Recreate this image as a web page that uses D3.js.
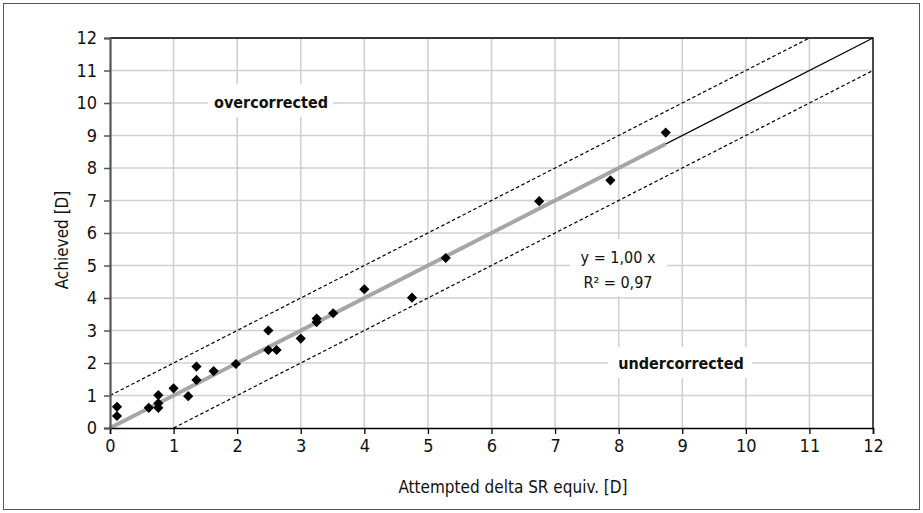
<!DOCTYPE html>
<html>
<head>
<meta charset="utf-8">
<script src="https://cdn.jsdelivr.net/npm/d3@7/dist/d3.min.js"></script>
<style>
  body { margin: 0; background: #fff; }
  svg text { font-family: 'DejaVu Sans Condensed', 'DejaVu Sans', sans-serif; font-stretch: condensed; fill: #111; }
</style>
</head>
<body>
<svg id="chart" width="923" height="513"></svg>
<script>
// Attempted vs. achieved correction (dioptres)
const attempted = [0.11, 0.11, 0.61, 0.76, 0.76, 0.76, 1.00, 1.23, 1.36, 1.36, 1.63, 1.98,
                   2.49, 2.49, 2.62, 3.00, 3.25, 3.25, 3.51, 4.00, 4.75, 5.28, 6.75, 7.87, 8.74];
const achieved  = [0.65, 0.37, 0.62, 1.01, 0.76, 0.62, 1.22, 0.98, 1.89, 1.48, 1.75, 1.97,
                   3.00, 2.40, 2.40, 2.75, 3.37, 3.26, 3.53, 4.27, 4.01, 5.23, 6.98, 7.62, 9.09];
const xTicks = [0, 1, 2, 3, 4, 5, 6, 7, 8, 9, 10, 11, 12];
const yTicks = [0, 1, 2, 3, 4, 5, 6, 7, 8, 9, 10, 11, 12];
const fitSlope = 1.00;
const fitR2 = 0.97;
const tolerance = 1; // ±1 D band

const svg = d3.select("#chart");
const W = 923, H = 513;
const plot = { left: 110, right: 873, top: 38, bottom: 428 };

const x = d3.scaleLinear().domain([0, 12]).range([plot.left, plot.right]);
const y = d3.scaleLinear().domain([0, 12]).range([plot.bottom, plot.top]);

// outer frame
svg.append("rect")
  .attr("x", 3.5).attr("y", 3.5).attr("width", W - 7).attr("height", H - 7)
  .attr("fill", "none").attr("stroke", "#555").attr("stroke-width", 1);

// gridlines
const grid = svg.append("g");
grid.selectAll("line.v").data(xTicks.slice(1)).join("line")
  .attr("x1", d => x(d)).attr("x2", d => x(d))
  .attr("y1", plot.top).attr("y2", plot.bottom)
  .attr("stroke", "#d0d0d0").attr("stroke-width", 1.6);
grid.selectAll("line.h").data(yTicks.slice(1)).join("line")
  .attr("x1", plot.left).attr("x2", plot.right)
  .attr("y1", d => y(d)).attr("y2", d => y(d))
  .attr("stroke", "#d0d0d0").attr("stroke-width", 1.6);

// white backing boxes behind the annotations
const boxes = [
  { x0: 208, x1: 333, y0: 84, y1: 117 },
  { x0: 608, x1: 752, y0: 347, y1: 378 },
  { x0: 570, x1: 667, y0: 239, y1: 296 }
];
svg.selectAll("rect.box").data(boxes).join("rect")
  .attr("x", d => d.x0).attr("y", d => d.y0)
  .attr("width", d => d.x1 - d.x0).attr("height", d => d.y1 - d.y0)
  .attr("fill", "#fff");

// plot border (top / right)
svg.append("path")
  .attr("d", `M${plot.left},${plot.top}H${plot.right}V${plot.bottom}`)
  .attr("fill", "none").attr("stroke", "#000").attr("stroke-width", 1.3);

const line = d3.line().x(d => x(d[0])).y(d => y(d[1]));

// tolerance band
svg.append("path")
  .attr("d", line([[0, tolerance], [12 - tolerance, 12]]))
  .attr("fill", "none").attr("stroke", "#000").attr("stroke-width", 1.2)
  .attr("stroke-dasharray", "3.5,2.5");
svg.append("path")
  .attr("d", line([[tolerance, 0], [12, 12 - tolerance]]))
  .attr("fill", "none").attr("stroke", "#000").attr("stroke-width", 1.2)
  .attr("stroke-dasharray", "3.5,2.5");

// identity line
svg.append("path")
  .attr("d", line([[0, 0], [12, 12]]))
  .attr("fill", "none").attr("stroke", "#000").attr("stroke-width", 1.2);

// linear fit through origin
const xMax = d3.max(attempted);
svg.append("path")
  .attr("d", line([[0, 0], [xMax, fitSlope * xMax]]))
  .attr("fill", "none").attr("stroke", "#a6a6a6").attr("stroke-width", 4);

// data points (diamonds)
const diamond = d3.symbol().type(d3.symbolSquare).size(52);
svg.append("g").selectAll("path").data(attempted.map((a, i) => [a, achieved[i]])).join("path")
  .attr("d", diamond)
  .attr("transform", d => `translate(${x(d[0])},${y(d[1])}) rotate(45)`)
  .attr("fill", "#000");

// axes
const xAxis = svg.append("g").attr("transform", `translate(0,${plot.bottom})`)
  .call(d3.axisBottom(x).tickValues(xTicks).tickSize(6).tickPadding(5).tickFormat(d3.format("d")));
xAxis.select(".domain").attr("stroke", "#000").attr("stroke-width", 1.6);
xAxis.selectAll(".tick line").attr("stroke", "#000").attr("stroke-width", 1.3);
xAxis.selectAll(".tick text").attr("font-size", 18).attr("font-family", null);

const yAxis = svg.append("g").attr("transform", `translate(${plot.left},0)`)
  .call(d3.axisLeft(y).tickValues(yTicks).tickSize(6).tickPadding(7).tickFormat(d3.format("d")));
yAxis.select(".domain").attr("stroke", "#555").attr("stroke-width", 2.2);
yAxis.selectAll(".tick line").attr("stroke", "#555").attr("stroke-width", 1.5);
yAxis.selectAll(".tick text").attr("font-size", 18).attr("font-family", null);

// axis titles
svg.append("text")
  .attr("x", 513).attr("y", 493)
  .attr("text-anchor", "middle").attr("font-size", 17)
  .text("Attempted delta SR equiv. [D]");
svg.append("text")
  .attr("transform", `translate(68,240) rotate(-90)`)
  .attr("text-anchor", "middle").attr("font-size", 17)
  .text("Achieved [D]");

// annotations
svg.append("text").attr("x", 271).attr("y", 108)
  .attr("text-anchor", "middle").attr("font-size", 16).attr("font-weight", "bold")
  .text("overcorrected");
svg.append("text").attr("x", 681).attr("y", 369)
  .attr("text-anchor", "middle").attr("font-size", 16).attr("font-weight", "bold")
  .text("undercorrected");

const fmt = v => v.toFixed(2).replace(".", ",");
svg.append("text").attr("x", 618).attr("y", 263)
  .attr("text-anchor", "middle").attr("font-size", 16)
  .text(`y = ${fmt(fitSlope)} x`);
svg.append("text").attr("x", 618).attr("y", 288)
  .attr("text-anchor", "middle").attr("font-size", 16)
  .text(`R² = ${fmt(fitR2)}`);
</script>
</body>
</html>
